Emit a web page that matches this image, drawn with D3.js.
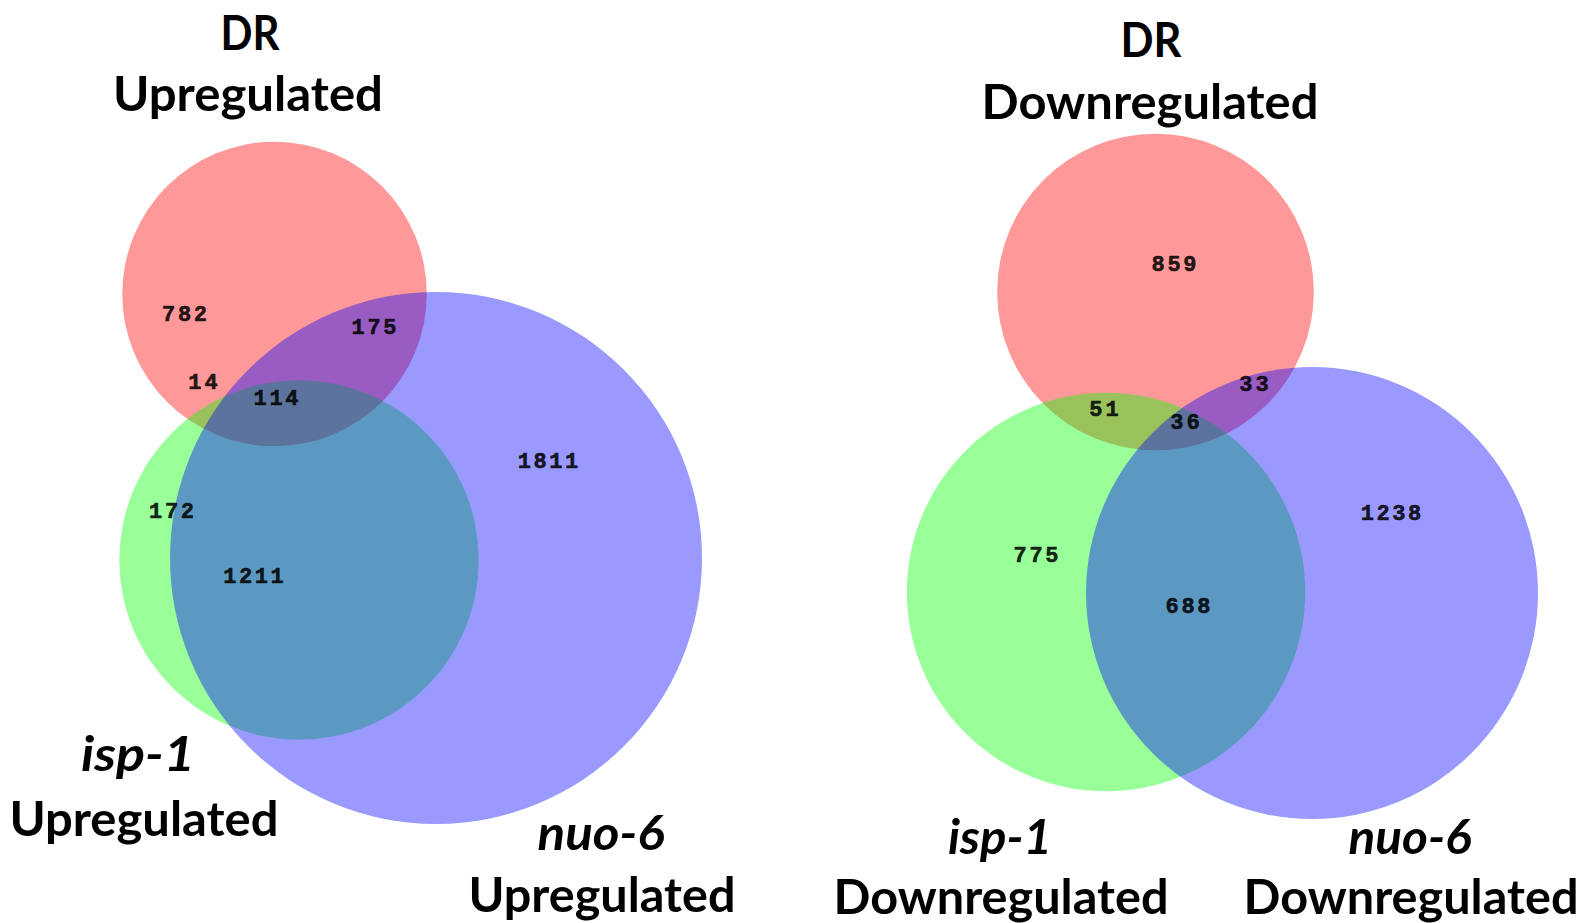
<!DOCTYPE html>
<html>
<head>
<meta charset="utf-8">
<script src="https://cdn.jsdelivr.net/npm/d3@7"></script>
<style>
  html, body { margin: 0; padding: 0; background: #ffffff; }
  svg { display: block; }
</style>
</head>
<body>
<div id="chart"></div>
<script>
// Gene sets compared in each diagram
const setNames = ["DR", "isp-1", "nuo-6"];
const directions = ["Upregulated", "Downregulated"];

// Region counts, in the order:
// DR only, isp-1 only, nuo-6 only, DR∩isp-1, DR∩nuo-6, isp-1∩nuo-6, all three
const upRegions = [782, 172, 1811, 14, 175, 1211, 114];
const downRegions = [859, 775, 1238, 51, 33, 688, 36];

// Which sets each region belongs to (indices into setNames)
const regionMembers = [[0], [1], [2], [0, 1], [0, 2], [1, 2], [0, 1, 2]];

// Set colours: pure hues drawn translucently so overlaps mix
const setColors = ["rgb(255,0,0)", "rgb(0,255,0)", "rgb(0,0,255)"];

// Layout for each panel: circle centres, largest radius, count label spots, set label spots
const panels = [
  {
    regions: upRegions,
    direction: directions[0],
    rMax: 266,
    centers: [[274.5, 294], [299, 560], [436, 558]],
    countPos: [[184.5, 315.5], [171.5, 512], [548, 462.5], [203, 383.5], [374, 328.5], [253.5, 577], [276, 399.5]],
    labels: [
      { set: 0, name: [250, 50, 59], dir: [248, 111, 270] },
      { set: 1, name: [138, 771, 114], dir: [144, 836, 269] },
      { set: 2, name: [601, 850, 127], dir: [602, 912, 267] }
    ]
  },
  {
    regions: downRegions,
    direction: directions[1],
    rMax: 226,
    centers: [[1155.5, 292], [1106, 592], [1312, 593]],
    countPos: [[1174, 265], [1036, 556], [1391, 514], [1104, 410], [1254, 385], [1188, 607.5], [1185, 423]],
    labels: [
      { set: 0, name: [1151, 57, 61], dir: [1150, 119, 337] },
      { set: 1, name: [1000, 854, 104], dir: [1001, 914, 335] },
      { set: 2, name: [1410, 854, 123], dir: [1411, 914, 335] }
    ]
  }
];

const width = 1590, height = 923;
const svg = d3.select("#chart").append("svg")
  .attr("width", width)
  .attr("height", height);

const labelFont = "Lato, 'Open Sans', 'Liberation Sans', sans-serif";
const countFont = "'Liberation Mono', 'DejaVu Sans Mono', monospace";

panels.forEach(p => {
  // Set totals from the region counts
  const totals = setNames.map((_, s) =>
    d3.sum(p.regions.filter((_, i) => regionMembers[i].includes(s))));

  // Circle area proportional to set size
  const r = d3.scaleSqrt().domain([0, d3.max(totals)]).range([0, p.rMax]);

  const g = svg.append("g");

  g.selectAll("circle")
    .data(totals)
    .join("circle")
    .attr("cx", (d, i) => p.centers[i][0])
    .attr("cy", (d, i) => p.centers[i][1])
    .attr("r", d => r(d))
    .attr("fill", (d, i) => setColors[i])
    .attr("fill-opacity", 0.4);

  // Region counts, dark and slightly see-through so they pick up the region tint
  g.selectAll("text.count")
    .data(p.regions)
    .join("text")
    .attr("class", "count")
    .attr("x", (d, i) => p.countPos[i][0])
    .attr("y", (d, i) => p.countPos[i][1])
    .attr("text-anchor", "middle")
    .attr("dominant-baseline", "central")
    .attr("font-family", countFont)
    .attr("font-weight", "bold")
    .attr("font-size", 22)
    .attr("textLength", d => String(d).length * 15.5 - 1.5)
    .attr("lengthAdjust", "spacing")
    .attr("fill", "#000")
    .attr("fill-opacity", 0.85)
    .attr("stroke", "#000")
    .attr("stroke-opacity", 0.85)
    .attr("stroke-width", 0.6)
    .text(d => d);

  // Set names and direction captions
  p.labels.forEach(l => {
    const italic = l.set !== 0;
    g.append("text")
      .attr("x", l.name[0])
      .attr("y", l.name[1])
      .attr("text-anchor", "middle")
      .attr("font-family", labelFont)
      .attr("font-weight", "bold")
      .attr("font-style", italic ? "italic" : "normal")
      .attr("font-size", 48)
      .attr("textLength", l.name[2])
      .attr("lengthAdjust", "spacingAndGlyphs")
      .attr("fill", "#000")
      .text(setNames[l.set]);
    g.append("text")
      .attr("x", l.dir[0])
      .attr("y", l.dir[1])
      .attr("text-anchor", "middle")
      .attr("font-family", labelFont)
      .attr("font-weight", "bold")
      .attr("font-size", 48)
      .attr("textLength", l.dir[2])
      .attr("lengthAdjust", "spacingAndGlyphs")
      .attr("fill", "#000")
      .text(p.direction);
  });
});
</script>
</body>
</html>
